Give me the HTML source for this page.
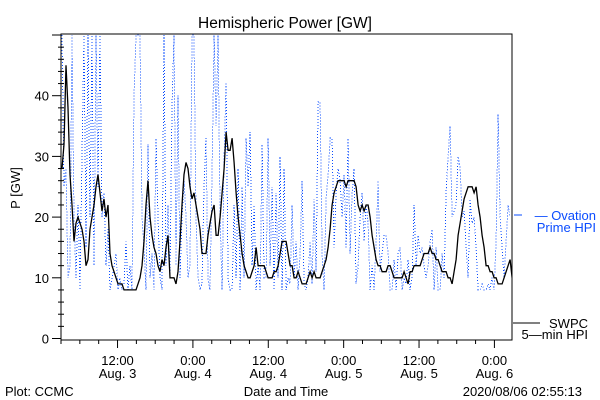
<!DOCTYPE html>
<html><head><meta charset="utf-8"><style>
body{margin:0;background:#fff}
svg{display:block;font-family:"Liberation Sans",sans-serif}
</style></head><body>
<svg id="chart" width="600" height="400" viewBox="0 0 600 400" xmlns="http://www.w3.org/2000/svg">
<rect x="0" y="0" width="600" height="400" fill="#fff"/>
<text x="285" y="28" font-size="15.5" text-anchor="middle" fill="#000">Hemispheric Power [GW]</text>
<defs><clipPath id="plotclip"><rect x="61" y="34" width="451" height="306"/></clipPath></defs>
<g id="marks" clip-path="url(#plotclip)"></g>
<g id="axes"></g>
<text transform="translate(20,188) rotate(-90)" font-size="13" text-anchor="middle">P [GW]</text>
<text x="286" y="396" font-size="13" text-anchor="middle">Date and Time</text>
<text x="5" y="396" font-size="13">Plot: CCMC</text>
<text x="582" y="396" font-size="13" text-anchor="end">2020/08/06 02:55:13</text>
<g>
<line x1="514" y1="215" x2="522" y2="215" stroke="#0a4cff" stroke-width="1"/>
<text x="596" y="220" font-size="13" text-anchor="end" fill="#0a4cff">— Ovation</text>
<text x="596" y="232" font-size="13" text-anchor="end" fill="#0a4cff">Prime HPI</text>
</g>
<g>
<line x1="513" y1="323" x2="540" y2="323" stroke="#000" stroke-width="1"/>
<text x="588" y="328" font-size="13" text-anchor="end">SWPC</text>
<text x="588" y="339" font-size="13" text-anchor="end">5—min HPI</text>
</g>
</svg>
<script>
const swpcValues=[28,32,45,38,27,22,16,19,20,19,18,16,12,13,18,20,22,25,27,24,21,23,20,22,14,12,11,10,9,9,9,8,8,8,8,8,8,8,9,10,12,16,22,26,20,17,15,14,12,11,13,12,15,17,10,10,10,9,11,16,22,27,29,28,25,23,24,22,20,18,14,14,14,17,19,21,22,17,17,20,24,28,34,31,31,33,29,24,20,17,14,12,11,10,10,11,12,15,12,12,12,12,11,10,10,10,11,11,12,14,16,16,16,14,12,12,10,10,11,10,9,9,9,10,11,10,11,10,10,10,11,12,13,15,18,22,24,25,26,26,26,26,25,26,26,26,26,25,22,21,22,21,22,22,20,17,15,13,12,12,11,11,11,12,12,11,10,10,10,10,10,11,10,9,11,11,12,12,12,12,13,14,14,14,15,14,14,13,13,12,11,11,11,10,10,9,11,13,17,19,21,23,24,25,25,25,24,25,22,20,17,15,12,12,11,11,10,10,9,9,9,10,11,12,13,10];
const ovationValues=[50,25,28,10,12,50,20,10,22,8,30,50,15,50,20,50,12,50,25,50,20,24,12,18,8,10,12,14,8,10,8,9,16,8,12,8,40,50,50,50,20,15,8,32,10,14,8,33,20,10,8,50,12,22,10,38,50,12,40,10,20,26,20,10,12,50,50,20,10,8,9,25,33,10,8,28,50,35,50,20,8,30,42,10,8,8,22,10,28,8,25,10,33,25,34,12,22,8,12,8,32,10,10,33,12,25,8,24,10,30,8,28,8,10,9,22,10,16,8,14,26,9,8,10,16,9,23,11,39,39,14,8,23,27,33,33,15,24,28,26,20,27,15,33,14,24,28,9,12,20,24,16,22,19,8,12,8,16,26,11,14,17,17,14,8,8,13,8,14,15,8,10,9,13,8,10,22,12,17,14,15,12,10,12,16,18,8,15,8,8,14,10,24,30,35,20,21,22,30,28,20,21,15,10,23,19,20,15,8,8,9,8,8,9,8,10,8,16,37,20,15,10,16,22,20];
const startHour=0.16, stepHour=0.3185;
const yTicks=[0,10,20,30,40];
const xTickHours=[9,21,33,45,57,69];
const xTickTime=["12:00","0:00","12:00","0:00","12:00","0:00"];
const xTickDate=["Aug. 3","Aug. 4","Aug. 4","Aug. 5","Aug. 5","Aug. 6"];
const X0=61,X1=512,Y0=340,Y1=34,HMAX=71.8;
const ns="http://www.w3.org/2000/svg";
function xs(h){return X0+(h/HMAX)*(X1-X0);}
function ys(v){return 338.5-v*6.07;}
function mk(t,a,p){const e=document.createElementNS(ns,t);for(const k in a)e.setAttribute(k,a[k]);p.appendChild(e);return e;}
const marks=document.getElementById('marks'),axes=document.getElementById('axes');
function pathOf(vals){return vals.map((v,i)=>(i?'L':'M')+xs(startHour+i*stepHour).toFixed(1)+' '+ys(v).toFixed(1)).join(' ');}
const ov=mk('path',{d:pathOf(ovationValues),fill:'none',stroke:'#0a4cff','stroke-width':1,'stroke-dasharray':'1 2','shape-rendering':'crispEdges'},marks);


const sw=mk('path',{d:pathOf(swpcValues),fill:'none',stroke:'#000','stroke-width':1.3},marks);


const frame=mk('rect',{x:X0,y:Y1,width:X1-X0,height:Y0-Y1,fill:'none',stroke:'#000','stroke-width':1},axes);


for(let v=0;v<=50;v+=2){const y=ys(v);const major=v%10===0;mk('line',{x1:major?52:58,x2:major?61:64,y1:y,y2:y,stroke:'#000','stroke-width':1},axes);}
yTicks.forEach(v=>{const t=mk('text',{x:49,y:ys(v)+5,'font-size':13,'text-anchor':'end'},axes);t.textContent=v;

});
for(let h=0;h<=HMAX;h+=3){const x=xs(h);const major=xTickHours.includes(h);mk('line',{x1:x,x2:x,y1:Y0,y2:major?348:344,stroke:'#000','stroke-width':1},axes);}
xTickHours.forEach((h,i)=>{const a=mk('text',{x:xs(h),y:365,'font-size':13,'text-anchor':'middle'},axes);a.textContent=xTickTime[i];


const b=mk('text',{x:xs(h),y:378,'font-size':13,'text-anchor':'middle'},axes);b.textContent=xTickDate[i];

});
</script>
</body></html>
